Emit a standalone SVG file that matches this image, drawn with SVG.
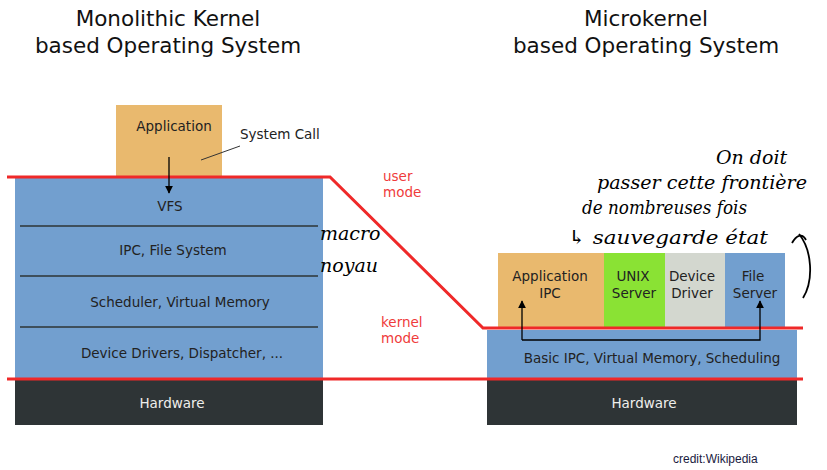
<svg xmlns="http://www.w3.org/2000/svg" width="827" height="470" viewBox="0 0 827 470">
<defs>
<style>
.t{font-family:"DejaVu Sans",Verdana,sans-serif;font-size:13.5px;fill:#222;text-anchor:middle}
.title{font-family:"DejaVu Sans",Verdana,sans-serif;font-size:21.5px;fill:#111;text-anchor:middle}
.red{font-family:"DejaVu Sans",Verdana,sans-serif;font-size:13.5px;fill:#ef3b3b}
.hw{font-family:"DejaVu Sans",Verdana,sans-serif;font-size:13.5px;fill:#eeeeec;text-anchor:middle}
.hand{font-family:"DejaVu Serif",serif;font-style:italic;font-size:19px;fill:#000}
.blue{fill:#729fcf}
.orange{fill:#e9b96e}
.dark{fill:#2e3436}
.div{stroke:#2e3436;stroke-width:1.5}
.mode{fill:none;stroke:#ef2929;stroke-width:3}
</style>
<marker id="ah" viewBox="0 0 10 10" refX="9" refY="5" markerWidth="8" markerHeight="8" markerUnits="userSpaceOnUse" orient="auto"><path d="M0,0 L10,5 L0,10 z" fill="#000"/></marker>
</defs>
<g id="titles">
<text class="title" x="168" y="26">Monolithic Kernel</text>
<text class="title" x="168" y="53">based Operating System</text>
<text class="title" x="646" y="26">Microkernel</text>
<text class="title" x="646" y="53">based Operating System</text>
</g>
<g id="application"><rect class="orange" x="116" y="105" width="106" height="72"/><text class="t" x="174" y="131">Application</text></g>
<g id="syscall-label"><text class="t" x="240" y="139" style="text-anchor:start">System Call</text></g>
<g id="monolithic-kernel">
<rect class="blue" x="15" y="178" width="308" height="200"/>
<line class="div" x1="20" y1="226" x2="318" y2="226"/>
<line class="div" x1="20" y1="276" x2="318" y2="276"/>
<line class="div" x1="20" y1="327" x2="318" y2="327"/>
<text class="t" x="170" y="211">VFS</text>
<text class="t" x="173" y="255">IPC, File System</text>
<text class="t" x="180" y="307">Scheduler, Virtual Memory</text>
<text class="t" x="182" y="358">Device Drivers, Dispatcher, ...</text>
</g>
<g id="hardware-left"><rect class="dark" x="15" y="380" width="308" height="45"/><text class="hw" x="172" y="408">Hardware</text></g>
<g id="app-ipc"><rect class="orange" x="498" y="253" width="106" height="75"/><text class="t" x="550" y="281">Application</text><text class="t" x="550" y="298">IPC</text></g>
<g id="unix-server"><rect fill="#8ae234" x="604" y="253" width="61" height="75"/><text class="t" x="633" y="281">UNIX</text><text class="t" x="634" y="298">Server</text></g>
<g id="device-driver"><rect fill="#d3d7cf" x="665" y="253" width="60" height="75"/><text class="t" x="692" y="281">Device</text><text class="t" x="692" y="298">Driver</text></g>
<g id="file-server"><rect class="blue" x="725" y="253" width="60" height="75"/><text class="t" x="753" y="281">File</text><text class="t" x="755" y="298">Server</text></g>
<g id="microkernel"><rect class="blue" x="487" y="330" width="310" height="48"/><text class="t" x="652" y="363">Basic IPC, Virtual Memory, Scheduling</text></g>
<g id="hardware-right"><rect class="dark" x="487" y="380" width="310" height="45"/><text class="hw" x="644" y="408">Hardware</text></g>
<g id="mode-labels">
<text class="red" x="383" y="181">user</text>
<text class="red" x="383" y="197">mode</text>
<text class="red" x="381" y="327">kernel</text>
<text class="red" x="381" y="343">mode</text>
</g>
<g id="connectors">
<polyline class="mode" points="7,177 330,177 483,328 803,328"/>
<line class="mode" x1="7" y1="379" x2="803" y2="379"/>
<line x1="169" y1="157" x2="169" y2="193" stroke="#000" stroke-width="1.3" marker-end="url(#ah)"/>
<line x1="201" y1="160" x2="240" y2="146" stroke="#333" stroke-width="1"/>
<polyline points="522,340 522,301" fill="none" stroke="#000" stroke-width="1.3" marker-end="url(#ah)"/>
<polyline points="522,340 760,340 760,301" fill="none" stroke="#000" stroke-width="1.3" marker-end="url(#ah)"/>
</g>
<g id="handwriting">
<text class="hand" x="320" y="240">macro</text>
<text class="hand" x="320" y="272">noyau</text>
<text class="hand" x="716" y="164">On doit</text>
<text class="hand" x="597" y="189" textLength="210" lengthAdjust="spacingAndGlyphs">passer cette frontière</text>
<text class="hand" x="582" y="214" textLength="165" lengthAdjust="spacingAndGlyphs">de nombreuses fois</text>
<text class="hand" x="568" y="244" textLength="200" lengthAdjust="spacingAndGlyphs">↳ sauvegarde état</text>
<path d="M792,243 C796,236 802,232 806,240 M799,234 C812,250 814,280 803,298" fill="none" stroke="#000" stroke-width="1.8"/>
</g>
<text x="673" y="463" style="font-family:'Liberation Sans',Arial,sans-serif;font-size:12px;fill:#1a1a40">credit:Wikipedia</text>
</svg>
